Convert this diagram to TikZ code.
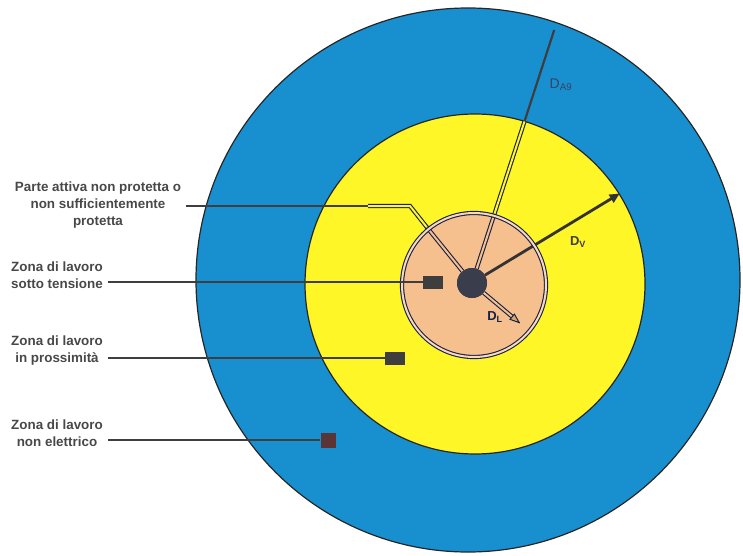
\documentclass[tikz,border=0pt]{standalone}
\usepackage{fontspec}
\setmainfont{Liberation Sans}
\usepackage{tikz}
\usetikzlibrary{calc, positioning, arrows.meta}

\definecolor{zoneblue}{RGB}{24,143,207}
\definecolor{zoneyellow}{RGB}{255,246,40}
\definecolor{zonepeach}{RGB}{246,192,142}
\definecolor{navyline}{RGB}{22,32,72}
\definecolor{leadgray}{RGB}{62,62,62}
\definecolor{textgray}{RGB}{72,72,72}
\definecolor{blobgray}{RGB}{58,62,76}
\definecolor{tipfill}{RGB}{214,168,112}

\tikzset{
  zone/.style={circle, draw=black!85, line width=1.2pt, inner sep=0pt},
  zonetext/.style={align=center, text=textgray, font=\fontsize{13.4}{17}\selectfont\bfseries},
  leader/.style={draw=leadgray, line width=2.4pt},
  marker/.style={rectangle, fill=leadgray, inner sep=0pt},
  wire/.style={draw=navyline, line width=1.1pt, double distance=2pt},
}

\begin{document}
\begin{tikzpicture}[x=1pt, y=1pt]
\useasboundingbox (0,0) rectangle (743,555);

% The three zones round the live part
\node[zone, fill=zoneblue, minimum size=544pt] (dav) at (468,275) {};
\node[zone, fill=zoneyellow, minimum size=340pt] (dv) at (475,271) {};
\node[circle, fill=zonepeach, minimum size=144pt, inner sep=0pt] (dl) at (474,270) {};
\node[circle, fill=blobgray, minimum size=30pt, inner sep=0pt] (src) at (472,272) {};

% Points on the wires
\coordinate (a9o) at ($(src.center)+(72:72)$);
\coordinate (a9y) at ($(src.center)+(72:170)$);
\coordinate (a9top) at ($(src.center)+(72:266)$);
\coordinate (pao) at ($(src.center)+(129:72)$);
\coordinate (pabend) at (410,349);
\coordinate (paend) at (368,349);
\coordinate (pastart) at (186,349);
\coordinate (dltip) at ($(src.center)+(-40:63)$);

% Wire up to D_A9
\draw[wire, double=zonepeach] (src) -- (a9o);
\draw[wire, double=zoneyellow] (a9o) -- (a9y);
\draw[leadgray, line width=2.2pt] (a9y) -- (a9top);

% Wire to the live part label
\draw[wire, double=zonepeach] (src) -- (pao);
\draw[wire, double=zoneyellow] (pao) -- (pabend) -- (paend);
\draw[leader] (pastart) -- (paend);

% D_L and D_V arrows
\draw[wire, double=zonepeach, shorten >=9pt] (src) -- (dltip);
\draw[navyline, line width=1pt, -{Triangle[open, fill=tipfill, length=11pt, width=8pt]}] ($(dltip)!1pt!(src)$) -- (dltip);
\draw[black!80, line width=2.8pt, -{Triangle[length=10pt, width=9pt]}] (src) -- (dv.32);

% Outline of the inner zone
\node[circle, wire, double=zonepeach!60!white, minimum size=144pt, inner sep=0pt] (dlrim) at (dl.center) {};
\node[circle, fill=blobgray, minimum size=30pt, inner sep=0pt] at (src.center) {};

% Distance labels
\node[text=navyline, font=\fontsize{13}{13}\selectfont\bfseries] (lblDL) at (495,238) {D\textsubscript{L}};
\node[text=leadgray, font=\fontsize{13}{13}\selectfont\bfseries] (lblDV) at (578,313) {D\textsubscript{V}};
\node[text=navyline!85, font=\fontsize{14}{14}\selectfont] (lblDA) at (561,470) {D\textsubscript{A9}};

% Markers of the working zones
\node[marker, minimum width=20pt, minimum height=13pt] (mSotto) at (433,273) {};
\node[marker, minimum width=20pt, minimum height=13pt] (mPross) at (395,197) {};
\node[marker, fill=leadgray!85!red, minimum width=15pt, minimum height=15pt] (mNonEl) at (328,115) {};

% Labels on the left
\node[zonetext] (lblPA) at (98,350) {Parte attiva non protetta o\\non sufficientemente\\protetta};
\node[zonetext] (lblSotto) at (57,280) {Zona di lavoro\\sotto tensione};
\node[zonetext] (lblPross) at (57,204) {Zona di lavoro\\in prossimità};
\node[zonetext] (lblNonEl) at (57,122) {Zona di lavoro\\non elettrico};

\coordinate (sottoL) at (108,273);
\coordinate (prossL) at (108,197);
\coordinate (nonelL) at (108,115);
\draw[leader] (sottoL) -- (mSotto);
\draw[leader] (prossL) -- (mPross);
\draw[leader] (nonelL) -- (mNonEl);
\end{tikzpicture}
\end{document}
